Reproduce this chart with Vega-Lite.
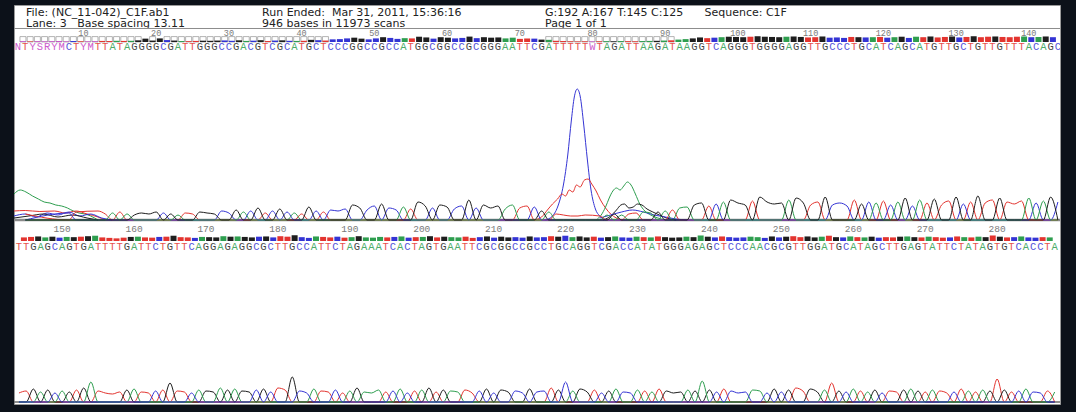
{
  "$schema": "https://vega.github.io/schema/vega-lite/v6.json",
  "width": 1076,
  "height": 412,
  "autosize": {"type": "fit", "contains": "padding"},
  "padding": {"left": 12, "top": 5, "right": 14, "bottom": 8},
  "background": "#0c1119",
  "config": {
    "view": {"fill": "#ffffff", "stroke": "#9a9a9a", "strokeWidth": 1},
    "text": {"font": "DejaVu Sans"}
  },
  "datasets": {
    "bases": [
      {"r":1,"p":1,"b":"N","h":0,"q":6},{"r":1,"p":2,"b":"T","h":60,"q":5},{"r":1,"p":3,"b":"Y","h":0,"q":6},{"r":1,"p":4,"b":"S","h":0,"q":5},{"r":1,"p":5,"b":"R","h":0,"q":6},
      {"r":1,"p":6,"b":"Y","h":0,"q":7},{"r":1,"p":7,"b":"M","h":0,"q":5},{"r":1,"p":8,"b":"C","h":70,"q":8},{"r":1,"p":9,"b":"T","h":80,"q":6},{"r":1,"p":10,"b":"Y","h":0,"q":5},
      {"r":1,"p":11,"b":"M","h":0,"q":6},{"r":1,"p":12,"b":"T","h":90,"q":9},{"r":1,"p":13,"b":"T","h":60,"q":8},{"r":1,"p":14,"b":"A","h":70,"q":10},{"r":1,"p":15,"b":"T","h":80,"q":9},
      {"r":1,"p":16,"b":"A","h":60,"q":10},{"r":1,"p":17,"b":"G","h":50,"q":14},{"r":1,"p":18,"b":"G","h":70,"q":28},{"r":1,"p":19,"b":"G","h":60,"q":12},{"r":1,"p":20,"b":"G","h":80,"q":30},
      {"r":1,"p":21,"b":"C","h":70,"q":16},{"r":1,"p":22,"b":"G","h":60,"q":12},{"r":1,"p":23,"b":"A","h":50,"q":8},{"r":1,"p":24,"b":"T","h":70,"q":7},{"r":1,"p":25,"b":"T","h":60,"q":9},
      {"r":1,"p":26,"b":"G","h":80,"q":11},{"r":1,"p":27,"b":"G","h":70,"q":10},{"r":1,"p":28,"b":"G","h":60,"q":12},{"r":1,"p":29,"b":"C","h":90,"q":13},{"r":1,"p":30,"b":"C","h":70,"q":10},
      {"r":1,"p":31,"b":"G","h":100,"q":14},{"r":1,"p":32,"b":"A","h":80,"q":9},{"r":1,"p":33,"b":"C","h":90,"q":11},{"r":1,"p":34,"b":"G","h":120,"q":15},{"r":1,"p":35,"b":"T","h":70,"q":8},
      {"r":1,"p":36,"b":"C","h":90,"q":12},{"r":1,"p":37,"b":"G","h":110,"q":14},{"r":1,"p":38,"b":"C","h":80,"q":10},{"r":1,"p":39,"b":"A","h":70,"q":9},{"r":1,"p":40,"b":"T","h":60,"q":10},
      {"r":1,"p":41,"b":"G","h":130,"q":18},{"r":1,"p":42,"b":"C","h":90,"q":15},{"r":1,"p":43,"b":"T","h":80,"q":12},{"r":1,"p":44,"b":"C","h":100,"q":22},{"r":1,"p":45,"b":"C","h":90,"q":24},
      {"r":1,"p":46,"b":"C","h":110,"q":30},{"r":1,"p":47,"b":"G","h":150,"q":36},{"r":1,"p":48,"b":"G","h":120,"q":28},{"r":1,"p":49,"b":"C","h":100,"q":22},{"r":1,"p":50,"b":"C","h":140,"q":30},
      {"r":1,"p":51,"b":"G","h":160,"q":40},{"r":1,"p":52,"b":"C","h":120,"q":34},{"r":1,"p":53,"b":"C","h":100,"q":26},{"r":1,"p":54,"b":"A","h":130,"q":32},{"r":1,"p":55,"b":"T","h":110,"q":30},
      {"r":1,"p":56,"b":"G","h":180,"q":44},{"r":1,"p":57,"b":"G","h":140,"q":38},{"r":1,"p":58,"b":"C","h":120,"q":28},{"r":1,"p":59,"b":"G","h":150,"q":40},{"r":1,"p":60,"b":"G","h":130,"q":36},
      {"r":1,"p":61,"b":"C","h":110,"q":30},{"r":1,"p":62,"b":"C","h":140,"q":34},{"r":1,"p":63,"b":"G","h":200,"q":45},{"r":1,"p":64,"b":"C","h":120,"q":32},{"r":1,"p":65,"b":"G","h":150,"q":40},
      {"r":1,"p":66,"b":"G","h":120,"q":36},{"r":1,"p":67,"b":"G","h":140,"q":38},{"r":1,"p":68,"b":"A","h":110,"q":30},{"r":1,"p":69,"b":"A","h":150,"q":36},{"r":1,"p":70,"b":"T","h":120,"q":26},
      {"r":1,"p":71,"b":"T","h":140,"q":30},{"r":1,"p":72,"b":"C","h":130,"q":28},{"r":1,"p":73,"b":"G","h":90,"q":20},{"r":1,"p":74,"b":"A","h":80,"q":18},{"r":1,"p":75,"b":"T","h":60,"q":10},
      {"r":1,"p":76,"b":"T","h":50,"q":8},{"r":1,"p":77,"b":"T","h":40,"q":6},{"r":1,"p":78,"b":"T","h":40,"q":5},{"r":1,"p":79,"b":"T","h":50,"q":6},{"r":1,"p":80,"b":"W","h":0,"q":5},
      {"r":1,"p":81,"b":"T","h":40,"q":6},{"r":1,"p":82,"b":"A","h":50,"q":7},{"r":1,"p":83,"b":"G","h":60,"q":6},{"r":1,"p":84,"b":"A","h":50,"q":8},{"r":1,"p":85,"b":"T","h":60,"q":7},
      {"r":1,"p":86,"b":"T","h":70,"q":6},{"r":1,"p":87,"b":"A","h":80,"q":8},{"r":1,"p":88,"b":"A","h":70,"q":9},{"r":1,"p":89,"b":"G","h":80,"q":10},{"r":1,"p":90,"b":"A","h":90,"q":12},
      {"r":1,"p":91,"b":"T","h":100,"q":14},{"r":1,"p":92,"b":"A","h":120,"q":20},{"r":1,"p":93,"b":"A","h":130,"q":24},{"r":1,"p":94,"b":"G","h":150,"q":30},{"r":1,"p":95,"b":"G","h":170,"q":38},
      {"r":1,"p":96,"b":"T","h":140,"q":32},{"r":1,"p":97,"b":"C","h":160,"q":36},{"r":1,"p":98,"b":"A","h":180,"q":40},{"r":1,"p":99,"b":"G","h":200,"q":44},{"r":1,"p":100,"b":"G","h":170,"q":42},
      {"r":1,"p":101,"b":"G","h":150,"q":40},{"r":1,"p":102,"b":"T","h":190,"q":44},{"r":1,"p":103,"b":"G","h":230,"q":48},{"r":1,"p":104,"b":"G","h":180,"q":44},{"r":1,"p":105,"b":"G","h":160,"q":42},
      {"r":1,"p":106,"b":"G","h":170,"q":40},{"r":1,"p":107,"b":"A","h":200,"q":44},{"r":1,"p":108,"b":"G","h":220,"q":46},{"r":1,"p":109,"b":"G","h":170,"q":42},{"r":1,"p":110,"b":"T","h":150,"q":38},
      {"r":1,"p":111,"b":"T","h":180,"q":40},{"r":1,"p":112,"b":"G","h":230,"q":46},{"r":1,"p":113,"b":"C","h":150,"q":36},{"r":1,"p":114,"b":"C","h":170,"q":38},{"r":1,"p":115,"b":"C","h":140,"q":34},
      {"r":1,"p":116,"b":"T","h":200,"q":42},{"r":1,"p":117,"b":"G","h":160,"q":40},{"r":1,"p":118,"b":"C","h":180,"q":38},{"r":1,"p":119,"b":"A","h":170,"q":40},{"r":1,"p":120,"b":"T","h":190,"q":42},
      {"r":1,"p":121,"b":"C","h":150,"q":36},{"r":1,"p":122,"b":"A","h":180,"q":40},{"r":1,"p":123,"b":"G","h":220,"q":44},{"r":1,"p":124,"b":"C","h":140,"q":34},{"r":1,"p":125,"b":"A","h":200,"q":44},
      {"r":1,"p":126,"b":"T","h":170,"q":40},{"r":1,"p":127,"b":"G","h":210,"q":46},{"r":1,"p":128,"b":"T","h":150,"q":38},{"r":1,"p":129,"b":"T","h":190,"q":42},{"r":1,"p":130,"b":"G","h":230,"q":46},
      {"r":1,"p":131,"b":"C","h":160,"q":38},{"r":1,"p":132,"b":"T","h":180,"q":42},{"r":1,"p":133,"b":"G","h":240,"q":48},{"r":1,"p":134,"b":"T","h":170,"q":40},{"r":1,"p":135,"b":"T","h":200,"q":44},
      {"r":1,"p":136,"b":"G","h":220,"q":46},{"r":1,"p":137,"b":"T","h":180,"q":42},{"r":1,"p":138,"b":"T","h":160,"q":40},{"r":1,"p":139,"b":"T","h":190,"q":44},{"r":1,"p":140,"b":"A","h":220,"q":46},
      {"r":1,"p":141,"b":"C","h":170,"q":40},{"r":1,"p":142,"b":"A","h":190,"q":42},{"r":1,"p":143,"b":"G","h":230,"q":46},{"r":1,"p":144,"b":"C","h":180,"q":40},
      {"r":2,"p":144,"b":"T","h":90,"q":30},{"r":2,"p":145,"b":"T","h":110,"q":34},{"r":2,"p":146,"b":"G","h":130,"q":38},{"r":2,"p":147,"b":"A","h":100,"q":30},{"r":2,"p":148,"b":"G","h":120,"q":36},
      {"r":2,"p":149,"b":"C","h":90,"q":28},{"r":2,"p":150,"b":"A","h":110,"q":34},{"r":2,"p":151,"b":"G","h":100,"q":32},{"r":2,"p":152,"b":"T","h":120,"q":36},{"r":2,"p":153,"b":"G","h":140,"q":40},
      {"r":2,"p":154,"b":"A","h":200,"q":44},{"r":2,"p":155,"b":"T","h":110,"q":30},{"r":2,"p":156,"b":"T","h":90,"q":26},{"r":2,"p":157,"b":"T","h":80,"q":22},{"r":2,"p":158,"b":"T","h":100,"q":28},
      {"r":2,"p":159,"b":"G","h":120,"q":34},{"r":2,"p":160,"b":"A","h":130,"q":36},{"r":2,"p":161,"b":"T","h":100,"q":30},{"r":2,"p":162,"b":"T","h":90,"q":28},{"r":2,"p":163,"b":"C","h":110,"q":34},
      {"r":2,"p":164,"b":"T","h":120,"q":36},{"r":2,"p":165,"b":"G","h":190,"q":44},{"r":2,"p":166,"b":"T","h":110,"q":32},{"r":2,"p":167,"b":"T","h":100,"q":30},{"r":2,"p":168,"b":"C","h":90,"q":26},
      {"r":2,"p":169,"b":"A","h":120,"q":34},{"r":2,"p":170,"b":"G","h":110,"q":32},{"r":2,"p":171,"b":"G","h":100,"q":30},{"r":2,"p":172,"b":"A","h":140,"q":40},{"r":2,"p":173,"b":"G","h":120,"q":36},
      {"r":2,"p":174,"b":"A","h":130,"q":38},{"r":2,"p":175,"b":"G","h":110,"q":34},{"r":2,"p":176,"b":"G","h":100,"q":30},{"r":2,"p":177,"b":"C","h":120,"q":36},{"r":2,"p":178,"b":"G","h":130,"q":38},
      {"r":2,"p":179,"b":"C","h":100,"q":30},{"r":2,"p":180,"b":"T","h":140,"q":40},{"r":2,"p":181,"b":"T","h":120,"q":36},{"r":2,"p":182,"b":"G","h":250,"q":48},{"r":2,"p":183,"b":"C","h":110,"q":32},
      {"r":2,"p":184,"b":"C","h":90,"q":26},{"r":2,"p":185,"b":"A","h":130,"q":38},{"r":2,"p":186,"b":"T","h":110,"q":34},{"r":2,"p":187,"b":"T","h":100,"q":30},{"r":2,"p":188,"b":"C","h":120,"q":36},
      {"r":2,"p":189,"b":"T","h":90,"q":28},{"r":2,"p":190,"b":"A","h":110,"q":32},{"r":2,"p":191,"b":"G","h":140,"q":40},{"r":2,"p":192,"b":"A","h":100,"q":30},{"r":2,"p":193,"b":"A","h":90,"q":28},
      {"r":2,"p":194,"b":"A","h":120,"q":34},{"r":2,"p":195,"b":"T","h":100,"q":30},{"r":2,"p":196,"b":"C","h":110,"q":34},{"r":2,"p":197,"b":"A","h":130,"q":38},{"r":2,"p":198,"b":"C","h":90,"q":28},
      {"r":2,"p":199,"b":"T","h":110,"q":32},{"r":2,"p":200,"b":"A","h":120,"q":34},{"r":2,"p":201,"b":"G","h":140,"q":40},{"r":2,"p":202,"b":"T","h":100,"q":30},{"r":2,"p":203,"b":"G","h":120,"q":36},
      {"r":2,"p":204,"b":"A","h":110,"q":32},{"r":2,"p":205,"b":"A","h":100,"q":30},{"r":2,"p":206,"b":"T","h":120,"q":36},{"r":2,"p":207,"b":"T","h":90,"q":26},{"r":2,"p":208,"b":"C","h":110,"q":32},
      {"r":2,"p":209,"b":"G","h":130,"q":38},{"r":2,"p":210,"b":"C","h":90,"q":28},{"r":2,"p":211,"b":"G","h":120,"q":36},{"r":2,"p":212,"b":"G","h":100,"q":30},{"r":2,"p":213,"b":"C","h":110,"q":32},
      {"r":2,"p":214,"b":"C","h":90,"q":28},{"r":2,"p":215,"b":"G","h":130,"q":38},{"r":2,"p":216,"b":"C","h":100,"q":30},{"r":2,"p":217,"b":"C","h":110,"q":32},{"r":2,"p":218,"b":"T","h":140,"q":40},
      {"r":2,"p":219,"b":"G","h":120,"q":36},{"r":2,"p":220,"b":"C","h":200,"q":44},{"r":2,"p":221,"b":"A","h":110,"q":32},{"r":2,"p":222,"b":"G","h":130,"q":38},{"r":2,"p":223,"b":"G","h":100,"q":30},
      {"r":2,"p":224,"b":"T","h":120,"q":36},{"r":2,"p":225,"b":"C","h":90,"q":28},{"r":2,"p":226,"b":"G","h":110,"q":32},{"r":2,"p":227,"b":"A","h":130,"q":38},{"r":2,"p":228,"b":"C","h":100,"q":30},
      {"r":2,"p":229,"b":"C","h":90,"q":28},{"r":2,"p":230,"b":"A","h":120,"q":36},{"r":2,"p":231,"b":"T","h":110,"q":32},{"r":2,"p":232,"b":"A","h":100,"q":30},{"r":2,"p":233,"b":"T","h":130,"q":38},
      {"r":2,"p":234,"b":"G","h":110,"q":32},{"r":2,"p":235,"b":"G","h":90,"q":28},{"r":2,"p":236,"b":"G","h":100,"q":30},{"r":2,"p":237,"b":"A","h":120,"q":36},{"r":2,"p":238,"b":"G","h":110,"q":32},
      {"r":2,"p":239,"b":"A","h":210,"q":46},{"r":2,"p":240,"b":"G","h":120,"q":36},{"r":2,"p":241,"b":"C","h":100,"q":30},{"r":2,"p":242,"b":"T","h":130,"q":38},{"r":2,"p":243,"b":"C","h":110,"q":32},
      {"r":2,"p":244,"b":"C","h":90,"q":28},{"r":2,"p":245,"b":"C","h":100,"q":30},{"r":2,"p":246,"b":"A","h":120,"q":36},{"r":2,"p":247,"b":"A","h":110,"q":32},{"r":2,"p":248,"b":"C","h":90,"q":26},
      {"r":2,"p":249,"b":"G","h":130,"q":38},{"r":2,"p":250,"b":"C","h":100,"q":30},{"r":2,"p":251,"b":"G","h":120,"q":36},{"r":2,"p":252,"b":"T","h":140,"q":40},{"r":2,"p":253,"b":"T","h":110,"q":32},
      {"r":2,"p":254,"b":"G","h":130,"q":38},{"r":2,"p":255,"b":"G","h":100,"q":30},{"r":2,"p":256,"b":"A","h":120,"q":36},{"r":2,"p":257,"b":"T","h":190,"q":44},{"r":2,"p":258,"b":"G","h":110,"q":32},
      {"r":2,"p":259,"b":"C","h":100,"q":30},{"r":2,"p":260,"b":"A","h":130,"q":38},{"r":2,"p":261,"b":"T","h":110,"q":32},{"r":2,"p":262,"b":"A","h":100,"q":30},{"r":2,"p":263,"b":"G","h":120,"q":36},
      {"r":2,"p":264,"b":"C","h":90,"q":28},{"r":2,"p":265,"b":"T","h":110,"q":32},{"r":2,"p":266,"b":"T","h":100,"q":30},{"r":2,"p":267,"b":"G","h":120,"q":36},{"r":2,"p":268,"b":"A","h":130,"q":38},
      {"r":2,"p":269,"b":"G","h":110,"q":32},{"r":2,"p":270,"b":"T","h":100,"q":30},{"r":2,"p":271,"b":"A","h":120,"q":36},{"r":2,"p":272,"b":"T","h":110,"q":32},{"r":2,"p":273,"b":"T","h":90,"q":28},
      {"r":2,"p":274,"b":"C","h":100,"q":30},{"r":2,"p":275,"b":"T","h":130,"q":38},{"r":2,"p":276,"b":"A","h":110,"q":32},{"r":2,"p":277,"b":"T","h":100,"q":30},{"r":2,"p":278,"b":"A","h":120,"q":36},
      {"r":2,"p":279,"b":"G","h":110,"q":32},{"r":2,"p":280,"b":"T","h":230,"q":46},{"r":2,"p":281,"b":"G","h":120,"q":36},{"r":2,"p":282,"b":"T","h":100,"q":30},{"r":2,"p":283,"b":"C","h":110,"q":32},
      {"r":2,"p":284,"b":"A","h":130,"q":38},{"r":2,"p":285,"b":"C","h":100,"q":30},{"r":2,"p":286,"b":"C","h":90,"q":28},{"r":2,"p":287,"b":"T","h":110,"q":32},{"r":2,"p":288,"b":"A","h":100,"q":30}
    ],
    "blobs": [
      {"k":1,"c":"C","p":73.5,"v":0},{"k":1,"c":"C","p":74.5,"v":40},{"k":1,"c":"C","p":75.3,"v":150},{"k":1,"c":"C","p":76,"v":350},{"k":1,"c":"C","p":76.6,"v":650},
      {"k":1,"c":"C","p":77.1,"v":1000},{"k":1,"c":"C","p":77.5,"v":1230},{"k":1,"c":"C","p":77.9,"v":1310},{"k":1,"c":"C","p":78.3,"v":1240},{"k":1,"c":"C","p":78.8,"v":950},
      {"k":1,"c":"C","p":79.3,"v":600},{"k":1,"c":"C","p":79.8,"v":300},{"k":1,"c":"C","p":80.4,"v":110},{"k":1,"c":"C","p":81,"v":40},{"k":1,"c":"C","p":81.8,"v":0},
      {"k":2,"c":"T","p":72,"v":0},{"k":2,"c":"T","p":73,"v":30},{"k":2,"c":"T","p":73.8,"v":100},{"k":2,"c":"T","p":74.5,"v":160},{"k":2,"c":"T","p":75.2,"v":210},
      {"k":2,"c":"T","p":75.8,"v":260},{"k":2,"c":"T","p":76.3,"v":240},{"k":2,"c":"T","p":76.8,"v":300},{"k":2,"c":"T","p":77.3,"v":280},{"k":2,"c":"T","p":77.8,"v":350},
      {"k":2,"c":"T","p":78.3,"v":330},{"k":2,"c":"T","p":78.9,"v":400},{"k":2,"c":"T","p":79.4,"v":410},{"k":2,"c":"T","p":79.9,"v":360},{"k":2,"c":"T","p":80.5,"v":290},
      {"k":2,"c":"T","p":81.1,"v":200},{"k":2,"c":"T","p":81.8,"v":120},{"k":2,"c":"T","p":82.5,"v":60},{"k":2,"c":"T","p":83.3,"v":20},{"k":2,"c":"T","p":84.2,"v":0},
      {"k":3,"c":"A","p":80.5,"v":0},{"k":3,"c":"A","p":81.2,"v":50},{"k":3,"c":"A","p":81.8,"v":130},{"k":3,"c":"A","p":82.3,"v":220},{"k":3,"c":"A","p":82.8,"v":290},
      {"k":3,"c":"A","p":83.3,"v":320},{"k":3,"c":"A","p":83.8,"v":300},{"k":3,"c":"A","p":84.3,"v":340},{"k":3,"c":"A","p":84.8,"v":380},{"k":3,"c":"A","p":85.3,"v":350},
      {"k":3,"c":"A","p":85.9,"v":260},{"k":3,"c":"A","p":86.5,"v":160},{"k":3,"c":"A","p":87.2,"v":90},{"k":3,"c":"A","p":88,"v":50},{"k":3,"c":"A","p":89,"v":20},{"k":3,"c":"A","p":90,"v":0},
      {"k":4,"c":"G","p":81.5,"v":0},{"k":4,"c":"G","p":82.5,"v":40},{"k":4,"c":"G","p":83.3,"v":100},{"k":4,"c":"G","p":83.9,"v":150},{"k":4,"c":"G","p":84.4,"v":160},
      {"k":4,"c":"G","p":85,"v":120},{"k":4,"c":"G","p":85.6,"v":130},{"k":4,"c":"G","p":86.2,"v":160},{"k":4,"c":"G","p":86.8,"v":150},{"k":4,"c":"G","p":87.5,"v":110},
      {"k":4,"c":"G","p":88.3,"v":80},{"k":4,"c":"G","p":89.2,"v":50},{"k":4,"c":"G","p":90.2,"v":20},{"k":4,"c":"G","p":91.5,"v":0},
      {"k":5,"c":"C","p":81,"v":20},{"k":5,"c":"C","p":82.5,"v":50},{"k":5,"c":"C","p":84,"v":80},{"k":5,"c":"C","p":85.5,"v":100},{"k":5,"c":"C","p":87,"v":80},
      {"k":5,"c":"C","p":88.5,"v":50},{"k":5,"c":"C","p":90,"v":30},{"k":5,"c":"C","p":91.5,"v":10},{"k":5,"c":"C","p":93,"v":0},
      {"k":7,"c":"A","p":0.45,"v":260},{"k":7,"c":"A","p":1.3,"v":300},{"k":7,"c":"A","p":2.1,"v":280},{"k":7,"c":"A","p":3,"v":240},{"k":7,"c":"A","p":3.8,"v":210},
      {"k":7,"c":"A","p":4.6,"v":180},{"k":7,"c":"A","p":5.4,"v":170},{"k":7,"c":"A","p":6.2,"v":150},{"k":7,"c":"A","p":7,"v":140},{"k":7,"c":"A","p":7.8,"v":120},
      {"k":7,"c":"A","p":8.6,"v":90},{"k":7,"c":"A","p":9.4,"v":70},{"k":7,"c":"A","p":10.2,"v":60},{"k":7,"c":"A","p":11,"v":40},{"k":7,"c":"A","p":12,"v":0},
      {"k":8,"c":"T","p":0.45,"v":90},{"k":8,"c":"T","p":2,"v":95},{"k":8,"c":"T","p":4,"v":85},{"k":8,"c":"T","p":6,"v":90},{"k":8,"c":"T","p":7.5,"v":70},
      {"k":8,"c":"T","p":9,"v":90},{"k":8,"c":"T","p":10.5,"v":60},{"k":8,"c":"T","p":12,"v":30},{"k":8,"c":"T","p":13,"v":0},
      {"k":9,"c":"C","p":0.45,"v":40},{"k":9,"c":"C","p":2,"v":60},{"k":9,"c":"C","p":3.5,"v":30},{"k":9,"c":"C","p":5,"v":70},{"k":9,"c":"C","p":6.5,"v":50},
      {"k":9,"c":"C","p":8,"v":80},{"k":9,"c":"C","p":9.5,"v":40},{"k":9,"c":"C","p":11,"v":60},{"k":9,"c":"C","p":12.5,"v":20},{"k":9,"c":"C","p":14,"v":0},
      {"k":10,"c":"G","p":0.45,"v":20},{"k":10,"c":"G","p":2.5,"v":40},{"k":10,"c":"G","p":4.5,"v":60},{"k":10,"c":"G","p":6.5,"v":30},{"k":10,"c":"G","p":8.5,"v":50},
      {"k":10,"c":"G","p":10.5,"v":20},{"k":10,"c":"G","p":12,"v":0}
    ]
  },
  "resolve": {"scale": {"x": "independent", "y": "independent"}},
  "layer": [
    {
      "data": {"values": [{"ln": 1, "t": "File: (NC_11-042)_C1F.ab1"}, {"ln": 2, "t": "Lane: 3\u00a0\u00a0 Base spacing 13.11"}]},
      "mark": {"type": "text", "align": "left", "baseline": "alphabetic", "fontSize": 11, "color": "#222222"},
      "encoding": {
        "x": {"datum": 2.1, "type": "quantitative", "scale": {"domain": [0.45, 144.29], "nice": false, "zero": false}, "axis": null},
        "y": {"field": "ln", "type": "quantitative", "scale": {"domain": [0, 36.273], "reverse": true, "nice": false, "zero": false}, "axis": null},
        "text": {"field": "t"}
      }
    },
    {
      "data": {"values": [{"ln": 1, "t": "Run Ended:\u00a0 Mar 31, 2011, 15:36:16"}, {"ln": 2, "t": "946 bases in 11973 scans"}]},
      "mark": {"type": "text", "align": "left", "baseline": "alphabetic", "fontSize": 11, "color": "#222222"},
      "encoding": {
        "x": {"datum": 34.56, "type": "quantitative", "scale": {"domain": [0.45, 144.29], "nice": false, "zero": false}, "axis": null},
        "y": {"field": "ln", "type": "quantitative", "scale": {"domain": [0, 36.273], "reverse": true, "nice": false, "zero": false}, "axis": null},
        "text": {"field": "t"}
      }
    },
    {
      "data": {"values": [{"ln": 1, "t": "G:192 A:167 T:145 C:125"}, {"ln": 2, "t": "Page 1 of 1"}]},
      "mark": {"type": "text", "align": "left", "baseline": "alphabetic", "fontSize": 11, "color": "#222222"},
      "encoding": {
        "x": {"datum": 73.47, "type": "quantitative", "scale": {"domain": [0.45, 144.29], "nice": false, "zero": false}, "axis": null},
        "y": {"field": "ln", "type": "quantitative", "scale": {"domain": [0, 36.273], "reverse": true, "nice": false, "zero": false}, "axis": null},
        "text": {"field": "t"}
      }
    },
    {
      "data": {"values": [{"ln": 1, "t": "Sequence: C1F"}]},
      "mark": {"type": "text", "align": "left", "baseline": "alphabetic", "fontSize": 11, "color": "#222222"},
      "encoding": {
        "x": {"datum": 95.4, "type": "quantitative", "scale": {"domain": [0.45, 144.29], "nice": false, "zero": false}, "axis": null},
        "y": {"field": "ln", "type": "quantitative", "scale": {"domain": [0, 36.273], "reverse": true, "nice": false, "zero": false}, "axis": null},
        "text": {"field": "t"}
      }
    },
    {
      "data": {"values": [{}]},
      "mark": {"type": "rule", "color": "#8c8c8c", "strokeWidth": 1},
      "encoding": {
        "y": {"datum": 2.136, "type": "quantitative", "scale": {"domain": [0, 36.273], "reverse": true, "nice": false, "zero": false}, "axis": null}
      }
    },
    {
      "data": {"name": "bases"},
      "transform": [{"filter": "datum.r == 1 && datum.q < 20"}],
      "mark": {"type": "bar", "orient": "vertical", "size": 6, "fill": "#ffffff", "stroke": "#a0a0a0", "strokeWidth": 0.8},
      "encoding": {
        "x": {"field": "p", "type": "quantitative", "scale": {"domain": [0.45, 144.29], "nice": false, "zero": false}, "axis": null},
        "y": {"datum": 45, "type": "quantitative", "scale": {"domain": [-3016.7, 308.3], "nice": false, "zero": false}, "axis": null},
        "y2": {"datum": 0}
      }
    },
    {
      "data": {"name": "bases"},
      "transform": [{"filter": "datum.r == 1"}],
      "mark": {"type": "bar", "orient": "vertical", "size": 6},
      "encoding": {
        "x": {"field": "p", "type": "quantitative", "scale": {"domain": [0.45, 144.29], "nice": false, "zero": false}, "axis": null},
        "y": {"field": "q", "type": "quantitative", "scale": {"domain": [-3016.7, 308.3], "nice": false, "zero": false}, "axis": null},
        "y2": {"datum": 0},
        "color": {"field": "b", "type": "nominal", "scale": {"domain": ["A","C","G","T","N","Y","S","R","M","W"], "range": ["#2e9e4f","#3434d4","#1e1e1e","#e3342f","#c43ec4","#c43ec4","#c43ec4","#c43ec4","#c43ec4","#c43ec4"]}, "legend": null}
      }
    },
    {
      "data": {"name": "bases"},
      "transform": [{"filter": "datum.r == 1"}],
      "mark": {"type": "text", "font": "Liberation Mono", "fontSize": 10.5, "baseline": "middle", "dy": 5, "opacity": 0.85, "clip": true},
      "encoding": {
        "x": {"field": "p", "type": "quantitative", "scale": {"domain": [0.45, 144.29], "nice": false, "zero": false}, "axis": null},
        "y": {"datum": 0, "type": "quantitative", "scale": {"domain": [-3016.7, 308.3], "nice": false, "zero": false}, "axis": null},
        "text": {"field": "b"},
        "color": {"field": "b", "type": "nominal", "scale": {"domain": ["A","C","G","T","N","Y","S","R","M","W"], "range": ["#2e9e4f","#3434d4","#1e1e1e","#e3342f","#c43ec4","#c43ec4","#c43ec4","#c43ec4","#c43ec4","#c43ec4"]}, "legend": null}
      }
    },
    {
      "data": {"name": "bases"},
      "transform": [{"filter": "datum.r == 1 && datum.p % 10 == 0"}],
      "mark": {"type": "text", "font": "Liberation Mono", "fontSize": 8.5, "baseline": "middle", "dy": -8.5, "color": "#7a7a7a", "clip": true},
      "encoding": {
        "x": {"field": "p", "type": "quantitative", "scale": {"domain": [0.45, 144.29], "nice": false, "zero": false}, "axis": null},
        "y": {"datum": 0, "type": "quantitative", "scale": {"domain": [-3016.7, 308.3], "nice": false, "zero": false}, "axis": null},
        "text": {"field": "p", "type": "quantitative", "format": "d"}
      }
    },
    {
      "data": {"values": [{}]},
      "mark": {"type": "rule", "color": "#8a8a8a", "strokeWidth": 2.5},
      "encoding": {
        "y": {"datum": 0, "type": "quantitative", "scale": {"domain": [-1840, 2150], "nice": false, "zero": false}, "axis": null}
      }
    },
    {
      "data": {"name": "blobs"},
      "mark": {"type": "line", "interpolate": "monotone", "strokeWidth": 1, "clip": true},
      "encoding": {
        "x": {"field": "p", "type": "quantitative", "scale": {"domain": [0.45, 144.29], "nice": false, "zero": false}, "axis": null},
        "y": {"field": "v", "type": "quantitative", "scale": {"domain": [-1840, 2150], "nice": false, "zero": false}, "axis": null},
        "detail": {"field": "k"},
        "color": {"field": "c", "type": "nominal", "scale": {"domain": ["A","C","G","T","N","Y","S","R","M","W"], "range": ["#2e9e4f","#3434d4","#1e1e1e","#e3342f","#c43ec4","#c43ec4","#c43ec4","#c43ec4","#c43ec4","#c43ec4"]}, "legend": null}
      }
    },
    {
      "data": {"name": "bases"},
      "transform": [
        {"filter": "datum.r == 1 && indexof(['A','C','G','T'], datum.b) >= 0"},
        {"impute": "h", "key": "p", "groupby": ["b"], "value": 0}
      ],
      "mark": {"type": "line", "interpolate": "monotone", "strokeWidth": 1, "clip": true},
      "encoding": {
        "x": {"field": "p", "type": "quantitative", "scale": {"domain": [0.45, 144.29], "nice": false, "zero": false}, "axis": null},
        "y": {"field": "h", "type": "quantitative", "scale": {"domain": [-1840, 2150], "nice": false, "zero": false}, "axis": null},
        "color": {"field": "b", "type": "nominal", "scale": {"domain": ["A","C","G","T","N","Y","S","R","M","W"], "range": ["#2e9e4f","#3434d4","#1e1e1e","#e3342f","#c43ec4","#c43ec4","#c43ec4","#c43ec4","#c43ec4","#c43ec4"]}, "legend": null}
      }
    },
    {
      "data": {"name": "bases"},
      "transform": [{"filter": "datum.r == 2"}],
      "mark": {"type": "bar", "orient": "vertical", "size": 6},
      "encoding": {
        "x": {"field": "p", "type": "quantitative", "scale": {"domain": [143.31, 288.74], "nice": false, "zero": false}, "axis": null},
        "y": {"field": "q", "type": "quantitative", "scale": {"domain": [-1358.3, 1966.7], "nice": false, "zero": false}, "axis": null},
        "y2": {"datum": 0},
        "color": {"field": "b", "type": "nominal", "scale": {"domain": ["A","C","G","T","N","Y","S","R","M","W"], "range": ["#2e9e4f","#3434d4","#1e1e1e","#e3342f","#c43ec4","#c43ec4","#c43ec4","#c43ec4","#c43ec4","#c43ec4"]}, "legend": null}
      }
    },
    {
      "data": {"name": "bases"},
      "transform": [{"filter": "datum.r == 2"}],
      "mark": {"type": "text", "font": "Liberation Mono", "fontSize": 10.5, "baseline": "middle", "dy": 5.5, "opacity": 0.85, "clip": true},
      "encoding": {
        "x": {"field": "p", "type": "quantitative", "scale": {"domain": [143.31, 288.74], "nice": false, "zero": false}, "axis": null},
        "y": {"datum": 0, "type": "quantitative", "scale": {"domain": [-1358.3, 1966.7], "nice": false, "zero": false}, "axis": null},
        "text": {"field": "b"},
        "color": {"field": "b", "type": "nominal", "scale": {"domain": ["A","C","G","T","N","Y","S","R","M","W"], "range": ["#2e9e4f","#3434d4","#1e1e1e","#e3342f","#c43ec4","#c43ec4","#c43ec4","#c43ec4","#c43ec4","#c43ec4"]}, "legend": null}
      }
    },
    {
      "data": {"name": "bases"},
      "transform": [{"filter": "datum.r == 2 && datum.p % 10 == 0"}],
      "mark": {"type": "text", "font": "Liberation Mono", "fontSize": 9.5, "baseline": "middle", "dy": -12, "color": "#7a7a7a", "clip": true},
      "encoding": {
        "x": {"field": "p", "type": "quantitative", "scale": {"domain": [143.31, 288.74], "nice": false, "zero": false}, "axis": null},
        "y": {"datum": 0, "type": "quantitative", "scale": {"domain": [-1358.3, 1966.7], "nice": false, "zero": false}, "axis": null},
        "text": {"field": "p", "type": "quantitative", "format": "d"}
      }
    },
    {
      "data": {"values": [{}]},
      "mark": {"type": "rule", "color": "#6a6a6a", "strokeWidth": 1.5},
      "encoding": {
        "y": {"datum": 0, "type": "quantitative", "scale": {"domain": [-20, 3970], "nice": false, "zero": false}, "axis": null}
      }
    },
    {
      "data": {"name": "bases"},
      "transform": [
        {"filter": "datum.r == 2"},
        {"impute": "h", "key": "p", "groupby": ["b"], "value": 0}
      ],
      "mark": {"type": "line", "interpolate": "monotone", "strokeWidth": 1, "clip": true},
      "encoding": {
        "x": {"field": "p", "type": "quantitative", "scale": {"domain": [143.31, 288.74], "nice": false, "zero": false}, "axis": null},
        "y": {"field": "h", "type": "quantitative", "scale": {"domain": [-20, 3970], "nice": false, "zero": false}, "axis": null},
        "color": {"field": "b", "type": "nominal", "scale": {"domain": ["A","C","G","T","N","Y","S","R","M","W"], "range": ["#2e9e4f","#3434d4","#1e1e1e","#e3342f","#c43ec4","#c43ec4","#c43ec4","#c43ec4","#c43ec4","#c43ec4"]}, "legend": null}
      }
    }
  ]
}
